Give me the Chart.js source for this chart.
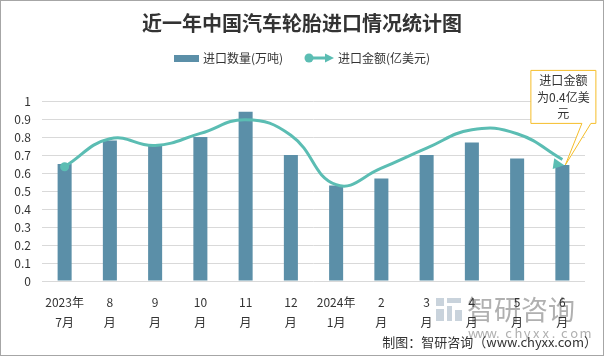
<!DOCTYPE html>
<html>
<head>
<meta charset="utf-8">
<script src="https://cdn.jsdelivr.net/npm/chart.js@4"></script>
<style>
html,body{margin:0;padding:0;background:#fff;}
#wrap{width:604px;height:356px;position:relative;}
</style>
</head>
<body>
<div id="wrap"><canvas id="c" width="604" height="356"></canvas></div>
<script>
const categories = [["2023年","7月"],["8","月"],["9","月"],["10","月"],["11","月"],["12","月"],["2024年","1月"],["2","月"],["3","月"],["4","月"],["5","月"],["6","月"]];
const quantity = [0.65, 0.78, 0.75, 0.80, 0.94, 0.70, 0.53, 0.57, 0.70, 0.77, 0.68, 0.645];
const amount = [0.635, 0.79, 0.753, 0.82, 0.896, 0.81, 0.535, 0.627, 0.738, 0.84, 0.818, 0.675];
const yTicks = [0,0.1,0.2,0.3,0.4,0.5,0.6,0.7,0.8,0.9,1];
const titleText = "近一年中国汽车轮胎进口情况统计图";
const legendBar = "进口数量(万吨)";
const legendLine = "进口金额(亿美元)";
const calloutLines = ["进口金额","为0.4亿美","元"];
const footerText = "制图：智研咨询（www.chyxx.com）";

const FONT = "'Noto Sans CJK SC','Noto Sans',sans-serif";
const BAR = "#5b8fa8";
const LINE = "#5bbdb3";

const decor = {
  id: 'decor',
  beforeDraw(chart) {
    const ctx = chart.ctx;
    ctx.save();
    ctx.fillStyle = '#fff';
    ctx.fillRect(0,0,chart.width,chart.height);
    // watermark
    ctx.fillStyle = '#c9d3dc';
    ctx.fillRect(436,298,8,8);
    ctx.fillRect(447,298,14,5);
    ctx.fillRect(436,309,8,12);
    ctx.fillRect(447,306,5,15);
    ctx.fillRect(455,310,7,11);
    ctx.fillStyle = '#b0b0b0';
    ctx.font = "27px " + FONT;
    ctx.textBaseline = 'middle';
    ctx.textAlign = 'left';
    ctx.fillText("智研咨询", 467, 310);
    ctx.font = "13px " + FONT;
    const w = "www.chyxx.com".split("");
    w.forEach((ch,i)=>{ ctx.fillText(ch, 468 + i*9.3, 333); });
    ctx.restore();
  },
  afterDraw(chart) {
    const ctx = chart.ctx;
    ctx.save();
    // title
    ctx.fillStyle = '#333';
    ctx.font = "bold 20px " + FONT;
    ctx.textAlign = 'center';
    ctx.textBaseline = 'middle';
    ctx.fillText(titleText, 302, 23);
    // legend
    ctx.fillStyle = BAR;
    ctx.fillRect(174,55,25,7);
    ctx.font = "12px " + FONT;
    ctx.fillStyle = '#333';
    ctx.textAlign = 'left';
    ctx.fillText(legendBar, 203, 58);
    ctx.strokeStyle = LINE; ctx.lineWidth = 3;
    ctx.beginPath(); ctx.moveTo(309,58); ctx.lineTo(327,58); ctx.stroke();
    ctx.fillStyle = LINE;
    ctx.beginPath(); ctx.arc(309,58,4.5,0,Math.PI*2); ctx.fill();
    ctx.beginPath(); ctx.moveTo(334,58); ctx.lineTo(325,53.5); ctx.lineTo(325,62.5); ctx.closePath(); ctx.fill();
    ctx.fillStyle = '#333';
    ctx.fillText(legendLine, 338, 58);

    // arrow at last point
    const meta = chart.getDatasetMeta(1);
    const pts = meta.data;
    const last = pts[pts.length-1];
    const prev = pts[pts.length-2];
    let dx = last.x - (last.cp1x ?? prev.x), dy = last.y - (last.cp1y ?? prev.y);
    const L = Math.hypot(dx,dy) || 1; dx/=L; dy/=L;
    const tipx = last.x + dx*2, tipy = last.y + dy*2;
    const al = 11, aw = 5.5;
    ctx.fillStyle = LINE;
    ctx.beginPath();
    ctx.moveTo(tipx, tipy);
    ctx.lineTo(tipx - dx*al - dy*aw, tipy - dy*al + dx*aw);
    ctx.lineTo(tipx - dx*al + dy*aw, tipy - dy*al - dx*aw);
    ctx.closePath(); ctx.fill();

    // callout
    const bx = last.x - 32, by = last.y - 95, bw = 65, bh = 53;
    const px = last.x + 3, py = last.y;
    ctx.beginPath();
    ctx.moveTo(bx+0.5, by+0.5);
    ctx.lineTo(bx+bw+0.5, by+0.5);
    ctx.lineTo(bx+bw+0.5, by+bh+0.5);
    ctx.lineTo(bx+60.5, by+bh+0.5);
    ctx.lineTo(px, py);
    ctx.lineTo(bx+51.5, by+bh+0.5);
    ctx.lineTo(bx+0.5, by+bh+0.5);
    ctx.closePath();
    ctx.fillStyle = '#fff'; ctx.fill();
    ctx.strokeStyle = '#f5be2a'; ctx.lineWidth = 1; ctx.stroke();
    ctx.fillStyle = '#333';
    ctx.font = "12px " + FONT;
    ctx.textAlign = 'center';
    calloutLines.forEach((t,i)=>ctx.fillText(t, bx+bw/2+0.5, by+11+i*16.5));

    // footer
    ctx.textAlign = 'right';
    ctx.font = "13px " + FONT;
    ctx.fillStyle = '#333';
    ctx.fillText(footerText, 597, 342);

    // frame
    ctx.strokeStyle = '#a6a6a6'; ctx.lineWidth = 1;
    ctx.strokeRect(0.5,0.5,chart.width-1,chart.height-1);
    ctx.restore();
  }
};

new Chart(document.getElementById('c'), {
  data: {
    labels: categories,
    datasets: [
      {
        type: 'line', label: legendLine, data: amount, order: 0,
        borderColor: LINE, backgroundColor: LINE, borderWidth: 3,
        tension: 0.45, pointRadius: amount.map((v,i)=> i===0 ? 4.5 : 0),
        pointBackgroundColor: LINE, pointBorderWidth: 0, fill: false
      },
      {
        type: 'bar', label: legendBar, data: quantity, order: 1,
        backgroundColor: BAR, barPercentage: 0.62, categoryPercentage: 0.5
      }
    ]
  },
  options: {
    responsive: false, animation: false,
    layout: { padding: { left: 0, right: 19, top: 101, bottom: 0 } },
    plugins: { legend: { display: false }, title: { display: false }, tooltip: { enabled: false } },
    scales: {
      x: {
        grid: { display: false, drawTicks: false }, border: { display: false },
        ticks: { color: '#333', font: { size: 12, family: FONT, lineHeight: 1.667 }, padding: 11, maxRotation: 0, autoSkip: false },
        afterFit(s) { s.height = 75; }
      },
      y: {
        min: 0, max: 1,
        afterBuildTicks(s) { s.ticks = yTicks.map(v=>({value:v})); },
        grid: { color: '#d9d9d9', drawTicks: false, lineWidth: 1 }, border: { display: false },
        ticks: { color: '#333', font: { size: 12, family: FONT }, padding: 11, callback: v => String(v) },
        afterFit(s) { s.width = 42; }
      }
    }
  },
  plugins: [decor]
});
</script>
</body>
</html>
